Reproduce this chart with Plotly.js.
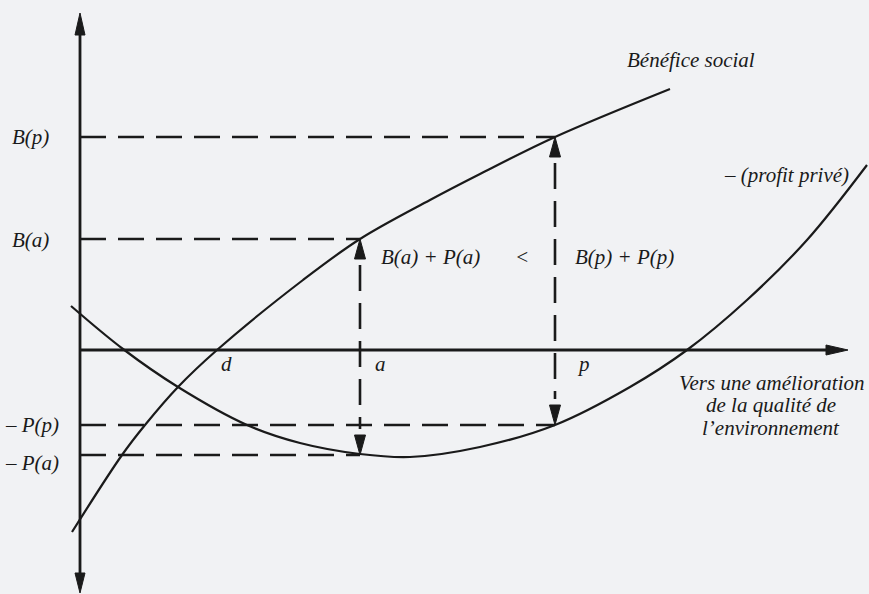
<!DOCTYPE html>
<html>
<head>
<meta charset="utf-8">
<script src="https://cdn.plot.ly/plotly-3.0.1.min.js"></script>
<style>
  html, body { margin: 0; padding: 0; background: #f1f2f4; }
  #chart { width: 869px; height: 594px; }
</style>
</head>
<body>
<div id="chart"></div>
<script>
// points, origin at the crossing of the two axes
var benefitX = [-8, 42, 65, 98, 137, 223, 280, 350, 400, 475, 590];
var benefitY = [-182, -105, -75, -37, 0, 70, 111, 150, 176, 213, 261];

var profitX = [-9, 43, 98, 167, 220, 280, 330, 400, 475, 550, 607, 667, 727, 787];
var profitY = [44, 1, -37, -75, -93, -104, -107, -97, -75, -37, 0, 50, 110, 185];

// the three marked levels on the horizontal axis
var pointNames = ['d', 'a', 'p'];
var pointX = [137, 280, 475];

// values at a and p
var levelNames = ['B(p)', 'B(a)', '– P(p)', '– P(a)'];
var levelX = [475, 280, 475, 280];
var levelY = [213, 111, -75, -105];

var serif = '"Liberation Serif", "Times New Roman", serif';
var ink = '#1a1a1a';
var fontSize = 21;

var data = [
    {
        x: benefitX, y: benefitY, mode: 'lines', type: 'scatter',
        line: { color: ink, width: 2.2, shape: 'spline', smoothing: 1 },
        hoverinfo: 'skip'
    },
    {
        x: profitX, y: profitY, mode: 'lines', type: 'scatter',
        line: { color: ink, width: 2.2, shape: 'spline', smoothing: 1 },
        hoverinfo: 'skip'
    }
];

// filled arrow head, tip at (x, y), pointing along (dx, dy); one unit = one pixel here
function arrowHead(x, y, dx, dy, len, half) {
    var bx = x - dx * len, by = y - dy * len;
    return {
        x: [x, bx - dy * half, bx + dy * half, x],
        y: [y, by + dx * half, by - dx * half, y],
        mode: 'lines', type: 'scatter', fill: 'toself',
        fillcolor: ink, line: { color: ink, width: 1 },
        hoverinfo: 'skip'
    };
}

// axes
var yAxisTop = 337, yAxisBottom = -243, xAxisEnd = 768;
data.push({
    x: [0, 0], y: [yAxisBottom + 10, yAxisTop - 10], mode: 'lines', type: 'scatter',
    line: { color: ink, width: 2.8 }, hoverinfo: 'skip'
});
data.push({
    x: [0, xAxisEnd - 10], y: [0, 0], mode: 'lines', type: 'scatter',
    line: { color: ink, width: 2.8 }, hoverinfo: 'skip'
});
data.push(arrowHead(0, yAxisTop, 0, 1, 22, 5));
data.push(arrowHead(0, yAxisBottom, 0, -1, 20, 5));
data.push(arrowHead(xAxisEnd, 0, 1, 0, 22, 5));

// dashed guide lines from the vertical axis to the curves
for (var i = 0; i < levelY.length; i++) {
    data.push({
        x: [0, levelX[i]], y: [levelY[i], levelY[i]],
        mode: 'lines', type: 'scatter',
        line: { color: ink, width: 2.6, dash: '26px,12px' },
        hoverinfo: 'skip'
    });
}

// dashed verticals between B and -P at a and p
var headLen = 20;
for (var j = 0; j < 2; j++) {
    var yTop = levelY[j];
    var yBottom = levelY[j + 2];
    var xx = levelX[j];
    data.push({
        x: [xx, xx], y: [yTop - headLen - 6, yBottom + headLen + 6],
        mode: 'lines', type: 'scatter',
        line: { color: ink, width: 2.6, dash: '26px,12px' },
        hoverinfo: 'skip'
    });
    data.push(arrowHead(xx, yTop, 0, 1, headLen, 5.5));
    data.push(arrowHead(xx, yBottom, 0, -1, headLen, 5.5));
}

var annotations = [];
function label(txt, x, y, xanchor) {
    return {
        x: x, y: y, xref: 'x', yref: 'y', text: txt, showarrow: false,
        xanchor: xanchor || 'center', yanchor: 'middle',
        font: { family: serif, size: fontSize, color: ink, style: 'italic' }
    };
}

// labels on the left of the vertical axis
var levelLabelRight = [-29, -29, -19, -19];
var levelLabelY = [213, 110, -75, -113];
for (var k = 0; k < levelNames.length; k++) {
    annotations.push(label(levelNames[k], levelLabelRight[k], levelLabelY[k], 'right'));
}

// d, a, p under the horizontal axis
var pointOffset = [9, 20, 28];
for (var m = 0; m < pointNames.length; m++) {
    annotations.push(label(pointNames[m], pointX[m] + pointOffset[m], -14, 'center'));
}

annotations.push(label('Bénéfice social', 611, 290, 'center'));
annotations.push(label('– (profit privé)', 771, 175, 'right'));
annotations.push(label('B(a) + P(a)', 350, 93, 'center'));
annotations.push(label('<', 442, 93, 'center'));
annotations.push(label('B(p) + P(p)', 544, 93, 'center'));

var axisNote = ['Vers une amélioration', 'de la qualité de', 'l\u2019environnement'];
var axisNoteY = [-33, -55, -78];
for (var n = 0; n < axisNote.length; n++) {
    annotations.push(label(axisNote[n], 691, axisNoteY[n], 'center'));
}

var layout = {
    width: 869,
    height: 594,
    margin: { l: 0, r: 0, t: 0, b: 0 },
    paper_bgcolor: '#f1f2f4',
    plot_bgcolor: '#f1f2f4',
    showlegend: false,
    xaxis: { range: [-80, 789], visible: false, fixedrange: true },
    yaxis: { range: [-244, 350], visible: false, fixedrange: true },
    annotations: annotations
};

Plotly.newPlot('chart', data, layout, { displayModeBar: false, staticPlot: true });
</script>
</body>
</html>
